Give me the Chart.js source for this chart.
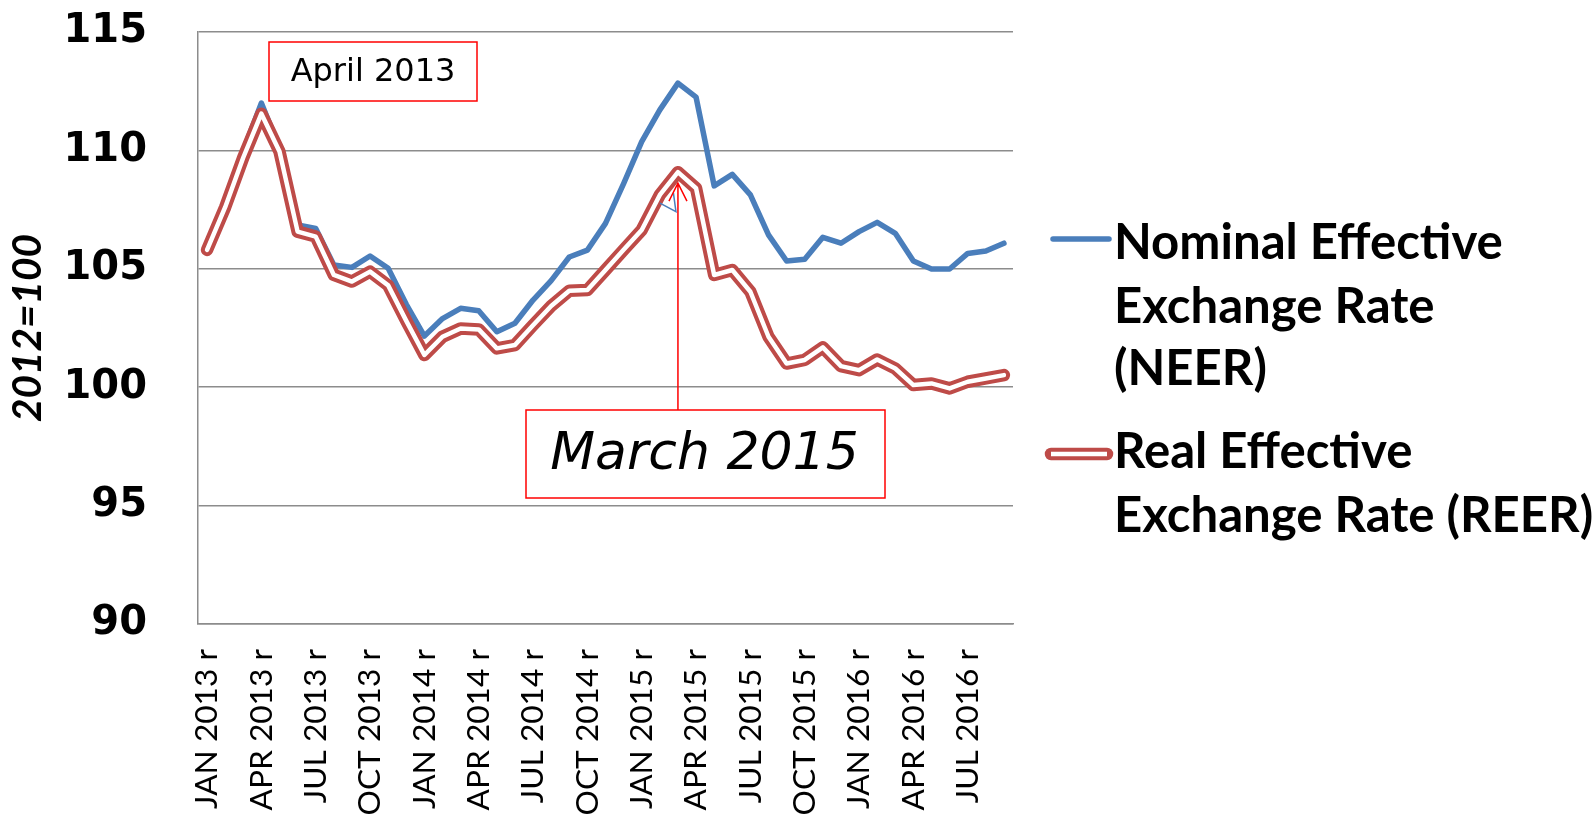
<!DOCTYPE html>
<html>
<head>
<meta charset="utf-8">
<script src="https://cdn.jsdelivr.net/npm/chart.js@4.4.1/dist/chart.umd.min.js"></script>
<style>
html,body{margin:0;padding:0;background:#fff;}
#c{display:block;}
</style>
</head>
<body>
<canvas id="c" width="1595" height="815"></canvas>
<script>
// ---- DATA ----
const monthNames = ['JAN','FEB','MAR','APR','MAY','JUN','JUL','AUG','SEP','OCT','NOV','DEC'];
const years = [2013, 2014, 2015, 2016];
const monthCount = 45; // Jan 2013 .. Sep 2016
const categories = [];
for (let i = 0; i < monthCount; i++) {
  categories.push(monthNames[i % 12] + ' ' + years[Math.floor(i / 12)] + ' r');
}
const neer = [105.9, 107.9, 110.0, 112.0, 110.1, 106.85, 106.7, 105.16, 105.06, 105.54,
  105.02, 103.5, 102.16, 102.9, 103.33, 103.23, 102.34, 102.7, 103.68, 104.5,
  105.5, 105.79, 106.92, 108.6, 110.37, 111.71, 112.84, 112.25, 108.5, 108.99,
  108.12, 106.43, 105.33, 105.4, 106.33, 106.08, 106.57, 106.96, 106.5, 105.33,
  104.99, 104.99, 105.65, 105.75, 106.08];
const reer = [105.8, 107.6, 109.7, 111.55, 109.95, 106.57, 106.36, 104.74, 104.46, 104.88,
  104.3, 102.8, 101.36, 102.13, 102.48, 102.44, 101.64, 101.78, 102.62, 103.43,
  104.07, 104.1, 104.95, 105.8, 106.64, 108.12, 109.08, 108.4, 104.74, 104.95,
  104.03, 102.13, 101.0, 101.15, 101.68, 100.89, 100.72, 101.17, 100.79, 100.09,
  100.16, 99.95, 100.23, 100.37, 100.51];
const yTicks = [90, 95, 100, 105, 110, 115];
const seriesNames = [
  ['Nominal Effective', 'Exchange Rate', '(NEER)'],
  ['Real Effective', 'Exchange Rate (REER)']
];
const yTitle = '2012=100';
const annotationLabels = {april: 'April 2013', march: 'March 2015'};
const marchIndex = 26;

// ---- STYLE ----
const BLUE = '#4A7EBB';
const RED = '#BE4B48';
const GRID = '#8C8C8C';
const CAL = 'Lato, Carlito, Calibri, sans-serif';
const VER = '"DejaVu Sans", Verdana, sans-serif';

function fitSize(text, fontFn, target) {
  const c = document.createElement('canvas').getContext('2d');
  c.font = fontFn(100);
  return 100 * target / c.measureText(text).width;
}
const xLabSize = fitSize('JAN 2013 r', s => `${s}px ${CAL}`, 160);
const yTitleSize = fitSize(yTitle, s => `italic bold ${s}px ${CAL}`, 188);
const legSize = fitSize('Nominal Effective', s => `bold ${s}px ${CAL}`, 389);

const PLOT_L = 198, PLOT_R = 1013, PLOT_T = 32, PLOT_B = 624;

const annotPlugin = {
  id: 'annot',
  afterDraw(chart) {
    const {ctx, chartArea: a, scales: {x, y}} = chart;
    ctx.save();
    // April 2013 box
    ctx.fillStyle = '#fff';
    ctx.strokeStyle = '#FF0000';
    ctx.lineWidth = 1.5;
    const bx = a.left + 71, by = a.top + 10, bw = 208, bh = 59;
    ctx.fillRect(bx, by, bw, bh);
    ctx.strokeRect(bx, by, bw, bh);
    ctx.fillStyle = '#000';
    ctx.font = `32px ${VER}`;
    ctx.textAlign = 'center';
    ctx.textBaseline = 'middle';
    ctx.fillText(annotationLabels.april, bx + bw / 2, by + bh / 2 + 1);

    // March 2015 arrow + box
    const ax = x.getPixelForValue(marchIndex);
    const tipY = y.getPixelForValue(reer[marchIndex]) + 11;
    const mx = a.left + 328, my = a.top + 378, mw = 359, mh = 88;
    // small blue callout wedge
    ctx.strokeStyle = BLUE;
    ctx.lineWidth = 1.5;
    ctx.beginPath();
    ctx.moveTo(ax - 18, tipY + 20);
    ctx.lineTo(ax - 2, tipY + 28.5);
    ctx.lineTo(ax - 4.5, tipY + 10);
    ctx.stroke();
    ctx.strokeStyle = '#FF0000';
    ctx.lineWidth = 1.5;
    ctx.beginPath();
    ctx.moveTo(ax, my);
    ctx.lineTo(ax, tipY);
    ctx.moveTo(ax - 9, tipY + 18);
    ctx.lineTo(ax, tipY);
    ctx.lineTo(ax + 9, tipY + 18);
    ctx.stroke();
    ctx.fillStyle = '#fff';
    ctx.fillRect(mx, my, mw, mh);
    ctx.strokeRect(mx, my, mw, mh);
    ctx.fillStyle = '#000';
    ctx.font = `oblique 52px ${VER}`;
    ctx.fillText(annotationLabels.march, mx + mw / 2 - 1, my + mh / 2 + 1);

    // Legend
    const lx = a.right + 40;
    ctx.lineCap = 'round';
    ctx.strokeStyle = BLUE;
    ctx.lineWidth = 5.5;
    ctx.beginPath();
    ctx.moveTo(lx, 239); ctx.lineTo(lx + 56, 239); ctx.stroke();
    ctx.strokeStyle = RED;
    ctx.lineWidth = 12.5;
    ctx.beginPath();
    ctx.moveTo(lx - 2, 454); ctx.lineTo(lx + 54, 454); ctx.stroke();
    ctx.strokeStyle = '#fff';
    ctx.lineWidth = 4.5;
    ctx.lineCap = 'butt';
    ctx.beginPath();
    ctx.moveTo(lx - 2, 454); ctx.lineTo(lx + 54, 454); ctx.stroke();

    ctx.fillStyle = '#000';
    ctx.font = `bold ${legSize}px ${CAL}`;
    ctx.textAlign = 'left';
    ctx.textBaseline = 'middle';
    const tx = lx + 61;
    const ys1 = [243, 307, 369];
    seriesNames[0].forEach((t, i) => ctx.fillText(t, tx, ys1[i]));
    const ys2 = [452, 516];
    seriesNames[1].forEach((t, i) => ctx.fillText(t, tx, ys2[i]));
    ctx.restore();
  }
};

new Chart(document.getElementById('c'), {
  type: 'line',
  data: {
    labels: categories,
    datasets: [
      {label: 'REER inner', data: reer, borderColor: '#FFFFFF', borderWidth: 4.5,
        pointRadius: 0, borderJoinStyle: 'round', borderCapStyle: 'round', tension: 0},
      {label: 'Real Effective Exchange Rate (REER)', data: reer, borderColor: RED, borderWidth: 12.5,
        pointRadius: 0, borderJoinStyle: 'round', borderCapStyle: 'round', tension: 0},
      {label: 'Nominal Effective Exchange Rate (NEER)', data: neer, borderColor: BLUE, borderWidth: 5.5,
        pointRadius: 0, borderJoinStyle: 'round', borderCapStyle: 'round', tension: 0}
    ]
  },
  options: {
    responsive: false,
    animation: false,
    events: [],
    layout: {padding: {left: 0, top: PLOT_T, right: 1595 - PLOT_R, bottom: 0}},
    plugins: {legend: {display: false}, tooltip: {enabled: false}},
    scales: {
      x: {
        type: 'category',
        offset: true,
        grid: {display: false, drawTicks: false},
        border: {display: true, color: GRID, width: 1.5},
        ticks: {
          autoSkip: false,
          minRotation: 90,
          maxRotation: 90,
          padding: 25,
          color: '#000',
          font: {family: CAL, size: xLabSize},
          callback: function (v, i) { return i % 3 === 0 ? this.getLabelForValue(v) : ''; }
        },
        afterFit(s) {
          s.height = 815 - PLOT_B;
          s.paddingLeft = 0; s.paddingRight = 0; s.paddingTop = 0; s.paddingBottom = 0;
        }
      },
      y: {
        min: 90, max: 115,
        afterBuildTicks(s) { s.ticks = yTicks.map(v => ({value: v})); },
        grid: {color: GRID, lineWidth: 1.5, drawTicks: false},
        border: {display: true, color: GRID, width: 1.5},
        ticks: {
          padding: 51,
          color: '#000',
          font: {family: VER, size: 40, weight: 'bold'}
        },
        title: {
          display: true,
          text: yTitle,
          color: '#000',
          padding: {top: 4, bottom: 4},
          font: {family: CAL, size: yTitleSize, weight: 'bold', style: 'italic'}
        },
        afterFit(s) {
          s.width = PLOT_L;
          s.paddingLeft = 0; s.paddingRight = 0; s.paddingTop = 0; s.paddingBottom = 0;
        }
      }
    }
  },
  plugins: [annotPlugin]
});
</script>
</body>
</html>
